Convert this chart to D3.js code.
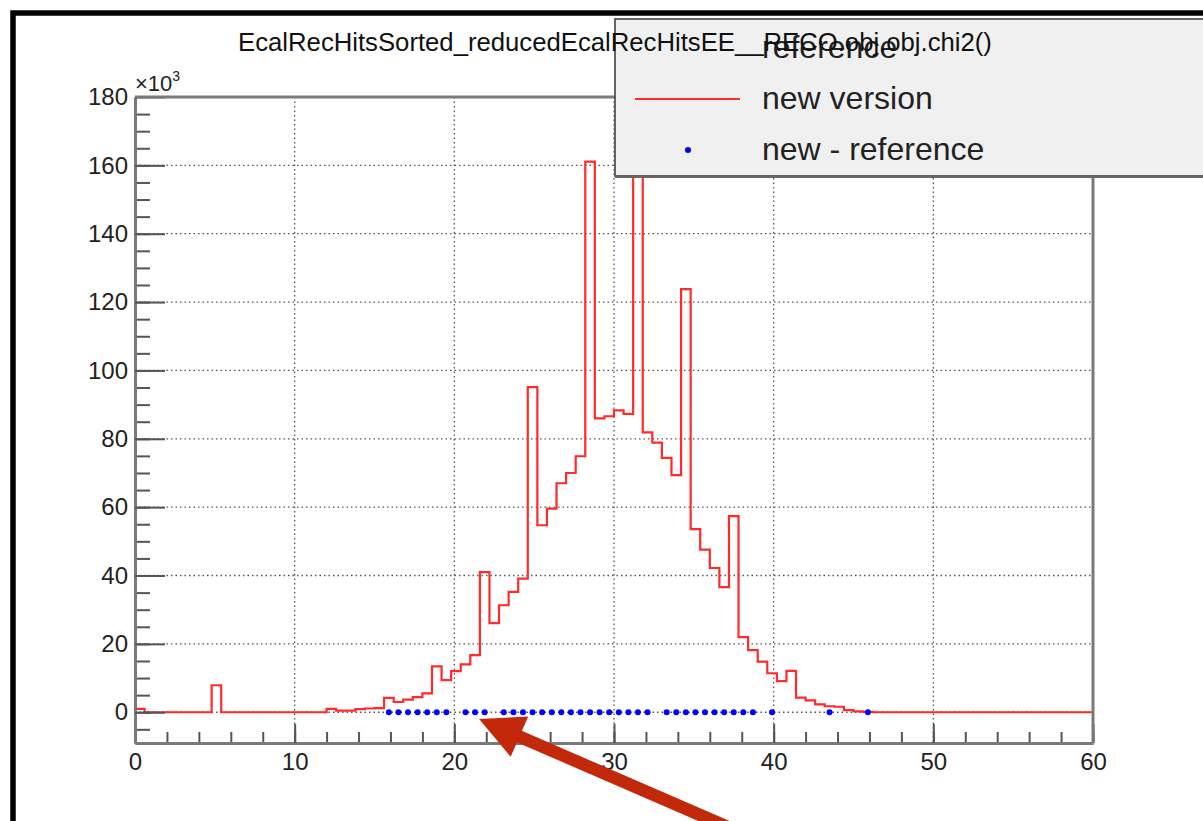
<!DOCTYPE html>
<html>
<head>
<meta charset="utf-8">
<script src="https://cdn.jsdelivr.net/npm/d3@7"></script>
<style>
body { margin: 0; background: #fff; }
svg { display: block; font-family: "Liberation Sans", Arial, Helvetica, sans-serif; }
</style>
</head>
<body>
<div id="chart"></div>
<script>
// histogram: 100 bins of width 0.6 from 0 to 60, contents in units of 10^3
let binWidth = 0.6;
let newVersion = [
  1.0, 0, 0, 0, 0, 0, 0, 0, 7.9, 0,
  0, 0, 0, 0, 0, 0, 0, 0, 0, 0,
  1.0, 0.5, 0.5, 0.9, 1.1, 1.2, 4.2, 3.0, 3.7, 4.4,
  5.5, 13.4, 9.4, 12.0, 14.0, 16.7, 41.0, 26.1, 31.3, 35.2,
  39.1, 95.1, 54.7, 59.6, 67.0, 70.0, 74.9, 161.1, 86.0, 86.6,
  88.3, 87.3, 195.0, 81.9, 78.9, 74.4, 69.4, 123.8, 53.6, 47.6,
  42.2, 36.6, 57.4, 22.0, 18.2, 14.8, 11.4, 9.1, 12.1, 4.3,
  3.5, 2.3, 1.75, 1.6, 0.6, 0.25, 0.1, 0, 0, 0,
  0, 0, 0, 0, 0, 0, 0, 0, 0, 0,
  0, 0, 0, 0, 0, 0, 0, 0, 0, 0
];

// new - reference points (bin centres, values)
let diffX = [15.9, 16.5, 17.1, 17.7, 18.3, 18.9, 19.5, 20.7, 21.3, 21.9,
  23.1, 23.7, 24.3, 24.9, 25.5, 26.1, 26.7, 27.3, 27.9, 28.5,
  29.1, 29.7, 30.3, 30.9, 31.5, 32.1, 33.3, 33.9, 34.5, 35.1,
  35.7, 36.3, 36.9, 37.5, 38.1, 38.7, 39.9, 43.5, 45.9];
let diffY = diffX.map(() => 0);

let xTicks = [0, 10, 20, 30, 40, 50, 60];
let yTicks = [0, 20, 40, 60, 80, 100, 120, 140, 160, 180];
let legendLabels = ["reference", "new version", "new - reference"];
let titleText = "EcalRecHitsSorted_reducedEcalRecHitsEE__RECO.obj.obj.chi2()";

var width = 1203, height = 821;
var margin = { top: 97, left: 135, right: 110, bottom: 78 };
var plotW = width - margin.left - margin.right;
var plotH = height - margin.top - margin.bottom;

let svg = d3.select('#chart').append('svg')
    .attr('width', width)
    .attr('height', height);

// outer black frame
svg.append('rect')
    .attr('x', 13).attr('y', 13)
    .attr('width', 1400).attr('height', 1000)
    .attr('fill', 'none')
    .attr('stroke', '#000')
    .attr('stroke-width', 5.5);

let g = svg.append('g')
    .attr('transform', 'translate(' + margin.left + ',' + margin.top + ')');

let xScale = d3.scaleLinear().domain([0, 60]).range([0, plotW]);
let yScale = d3.scaleLinear().domain([-9, 180]).range([plotH, 0]);

// dotted grid
g.append('g').selectAll('line')
    .data(xTicks.slice(1, -1))
    .enter().append('line')
    .attr('x1', d => xScale(d)).attr('x2', d => xScale(d))
    .attr('y1', 0).attr('y2', plotH)
    .attr('stroke', '#555').attr('stroke-width', 1.3)
    .attr('stroke-dasharray', '1.5,3');
g.append('g').selectAll('line')
    .data(yTicks.slice(0, -1))
    .enter().append('line')
    .attr('y1', d => yScale(d)).attr('y2', d => yScale(d))
    .attr('x1', 0).attr('x2', plotW)
    .attr('stroke', '#555').attr('stroke-width', 1.3)
    .attr('stroke-dasharray', '1.5,3');

// histogram as step line
svg.append('clipPath').attr('id', 'plotclip')
    .append('rect').attr('width', plotW).attr('height', plotH);

let stepPath = d3.path();
newVersion.forEach(function (v, i) {
    let x0 = xScale(i * binWidth), x1 = xScale((i + 1) * binWidth);
    if (i === 0) stepPath.moveTo(x0, yScale(v));
    else stepPath.lineTo(x0, yScale(v));
    stepPath.lineTo(x1, yScale(v));
});
g.append('path')
    .attr('clip-path', 'url(#plotclip)')
    .attr('d', stepPath.toString())
    .attr('fill', 'none')
    .attr('stroke', '#ff2a2a')
    .attr('stroke-width', 2.2);

// new - reference markers
g.selectAll('circle.diff')
    .data(diffX)
    .enter().append('circle')
    .attr('class', 'diff')
    .attr('cx', d => xScale(d))
    .attr('cy', (d, i) => yScale(diffY[i]))
    .attr('r', 3)
    .attr('fill', '#0000ff');

// axes
let axisColor = '#7a7a7a';
let xMajor = d3.axisBottom(xScale).tickValues(xTicks).tickSize(-19).tickSizeOuter(0).tickPadding(10);
let xMinor = d3.axisBottom(xScale).tickValues(d3.range(0, 61, 2)).tickSize(-11).tickSizeOuter(0).tickFormat('');
let yMajor = d3.axisLeft(yScale).tickValues(yTicks).tickSize(-30).tickSizeOuter(0).tickPadding(7);
let yMinor = d3.axisLeft(yScale).tickValues(d3.range(-5, 180, 5)).tickSize(-15).tickSizeOuter(0).tickFormat('');

function styleAxis(sel) {
    sel.select('.domain').attr('stroke', axisColor).attr('stroke-width', 3);
    sel.selectAll('.tick line').attr('stroke', '#555').attr('stroke-width', 2);
    sel.selectAll('.tick text').attr('fill', '#222').style('font-size', '24px');
}

g.append('g').attr('transform', 'translate(0,' + plotH + ')').call(xMinor).call(styleAxis);
g.append('g').attr('transform', 'translate(0,' + plotH + ')').call(xMajor).call(styleAxis);
g.append('g').call(yMinor).call(styleAxis);
g.append('g').call(yMajor).call(styleAxis);

// top and right frame
g.append('path')
    .attr('d', 'M0,0H' + plotW + 'V' + plotH)
    .attr('fill', 'none')
    .attr('stroke', axisColor)
    .attr('stroke-width', 3);

// x10^3 label
let expLabel = g.append('text')
    .attr('x', 0).attr('y', -6)
    .attr('fill', '#222')
    .style('font-size', '22px')
    .text('\u00d710');
expLabel.append('tspan')
    .attr('dy', -10)
    .style('font-size', '14px')
    .text('3');

// legend
let legend = svg.append('g').attr('transform', 'translate(615,19)');
legend.append('rect')
    .attr('width', 590).attr('height', 157)
    .attr('fill', '#f0f0f0')
    .attr('stroke', '#555')
    .attr('stroke-width', 1.8);
legend.append('line')
    .attr('x1', 0).attr('x2', 590)
    .attr('y1', 158).attr('y2', 158)
    .attr('stroke', '#666').attr('stroke-width', 2);

legend.selectAll('text.leg')
    .data(legendLabels)
    .enter().append('text')
    .attr('class', 'leg')
    .attr('x', 147)
    .attr('y', (d, i) => 39 + i * 51)
    .attr('fill', '#222')
    .style('font-size', '32px')
    .text(d => d);

legend.append('line')
    .attr('x1', 20).attr('x2', 125)
    .attr('y1', 80).attr('y2', 80)
    .attr('stroke', '#ff2a2a').attr('stroke-width', 2.2);
legend.append('circle')
    .attr('cx', 73).attr('cy', 131)
    .attr('r', 3)
    .attr('fill', '#0000ff');

// title, drawn over the legend as in the original canvas
svg.append('text')
    .attr('x', 615).attr('y', 51)
    .attr('text-anchor', 'middle')
    .attr('fill', '#111')
    .style('font-size', '25.7px')
    .text(titleText);

// red annotation arrow pointing at the gap in the markers
let tipX = xScale(21.55) + margin.left, tipY = yScale(-2) + margin.top;
let ang = Math.atan2(0.434, 1);
let headLen = 44, headHalf = 22;
let bx = tipX + headLen * Math.cos(ang), by = tipY + headLen * Math.sin(ang);
let nx = -Math.sin(ang), ny = Math.cos(ang);
svg.append('line')
    .attr('x1', bx - 4 * Math.cos(ang)).attr('y1', by - 4 * Math.sin(ang))
    .attr('x2', tipX + 320 * Math.cos(ang)).attr('y2', tipY + 320 * Math.sin(ang))
    .attr('stroke', '#c2290b')
    .attr('stroke-width', 12.5);
svg.append('path')
    .attr('d', 'M' + tipX + ',' + tipY +
        'L' + (bx + nx * headHalf) + ',' + (by + ny * headHalf) +
        'L' + (bx - nx * headHalf) + ',' + (by - ny * headHalf) + 'Z')
    .attr('fill', '#c2290b');
</script>
</body>
</html>
